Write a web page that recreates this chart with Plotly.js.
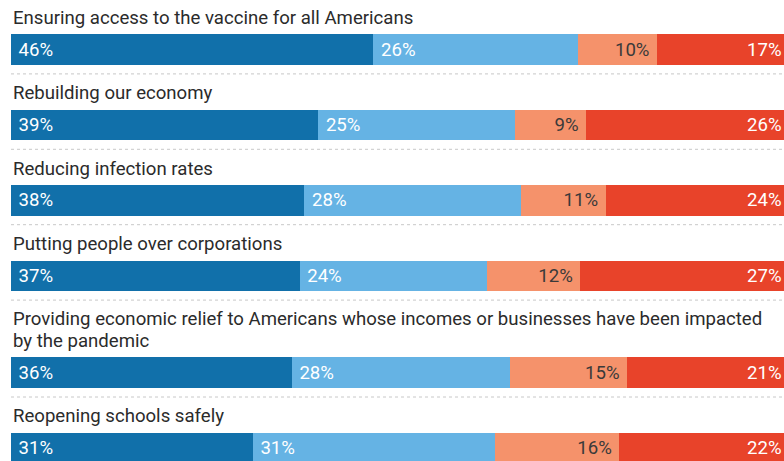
<!DOCTYPE html>
<html>
<head>
<meta charset="utf-8">
<script src="https://cdn.plot.ly/plotly-3.0.1.min.js"></script>
<style>html,body{margin:0;padding:0;background:#fff;}#chart{width:784px;height:461px;}</style>
</head>
<body>
<div id="chart"></div>
<script>
// ---- data ----
var categories = [
  "Ensuring access to the vaccine for all Americans",
  "Rebuilding our economy",
  "Reducing infection rates",
  "Putting people over corporations",
  "Providing economic relief to Americans whose incomes or businesses have been impacted<br>by the pandemic",
  "Reopening schools safely"
];
var darkBlue  = [46, 39, 38, 37, 36, 31];
var lightBlue = [26, 25, 28, 24, 28, 31];
var salmon    = [10,  9, 11, 12, 15, 16];
var red       = [17, 26, 24, 27, 21, 22];

// ---- layout constants (pixels; y axis is 1 unit = 1 px) ----
var H = 461, W = 784;
var firstTop = 34.3, rowStep = 75.4, lineStep = 21.5, barH = 30.6;
var FS = 18.6;
var tops = [], extra = 0;
categories.forEach(function (c, i) {
  extra += (c.split("<br>").length - 1) * lineStep;
  tops.push(firstTop + i * rowStep + extra);
});
var centers = tops.map(function (t) { return t + barH / 2; });

var NB = "\u00a0";
function lbl(arr, left) {
  return arr.map(function (v) { return left ? NB + v + "%" : v + "%" + NB; });
}

var font = "Roboto, 'Open Sans', sans-serif";
function trace(vals, color, txtColor, left, showText) {
  return {
    type: "bar", orientation: "h",
    x: vals, y: centers, width: barH,
    marker: {color: color, line: {width: 0}},
    text: lbl(vals, left), texttemplate: "%{text}",
    textposition: showText ? "inside" : "none",
    insidetextanchor: left ? "start" : "end",
    textfont: {family: font, size: FS, color: txtColor},
    hoverinfo: "skip"
  };
}
var data = [
  trace(darkBlue,  "#1170aa", "#ffffff", true, true),
  trace(lightBlue, "#65b3e4", "#ffffff", true, true),
  trace(salmon,    "#f5926b", "#3a3a3a", false, true),
  trace(red,       "#e8432a", "#ffffff", false, false)
];

var annotations = [];
categories.forEach(function (c, i) {
  var lines = c.split("<br>");
  lines.forEach(function (ln, k) {
    annotations.push({
      text: ln, xref: "paper", yref: "y", x: 0,
      y: tops[i] - 3.5 - (lines.length - 1 - k) * lineStep,
      xanchor: "left", yanchor: "bottom", align: "left", showarrow: false,
      font: {family: font, size: FS, color: "#2b2b2b"}
    });
  });
  // red segment labels pinned to the visible right edge
  annotations.push({
    text: red[i] + "%", xref: "paper", yref: "y", x: 1, y: centers[i],
    xanchor: "right", yanchor: "middle", showarrow: false,
    font: {family: font, size: FS, color: "#ffffff"}
  });
});
var shapes = tops.map(function (t) {
  return {
    type: "line", xref: "paper", yref: "y", x0: 0, x1: 1,
    y0: t + barH + 9, y1: t + barH + 9,
    line: {color: "#c8c8c8", width: 1, dash: "dot"}
  };
});

var layout = {
  width: W, height: H,
  margin: {l: 11, r: 0, t: 0, b: 0, pad: 0},
  barmode: "stack", barnorm: "percent", bargap: 0,
  paper_bgcolor: "#fff", plot_bgcolor: "#fff",
  showlegend: false, hovermode: false,
  xaxis: {range: [0, 773 / 780 * 100], visible: false, fixedrange: true},
  yaxis: {range: [H, 0], visible: false, fixedrange: true},
  annotations: annotations, shapes: shapes
};
Plotly.newPlot("chart", data, layout, {displayModeBar: false, staticPlot: true});
</script>
</body>
</html>
